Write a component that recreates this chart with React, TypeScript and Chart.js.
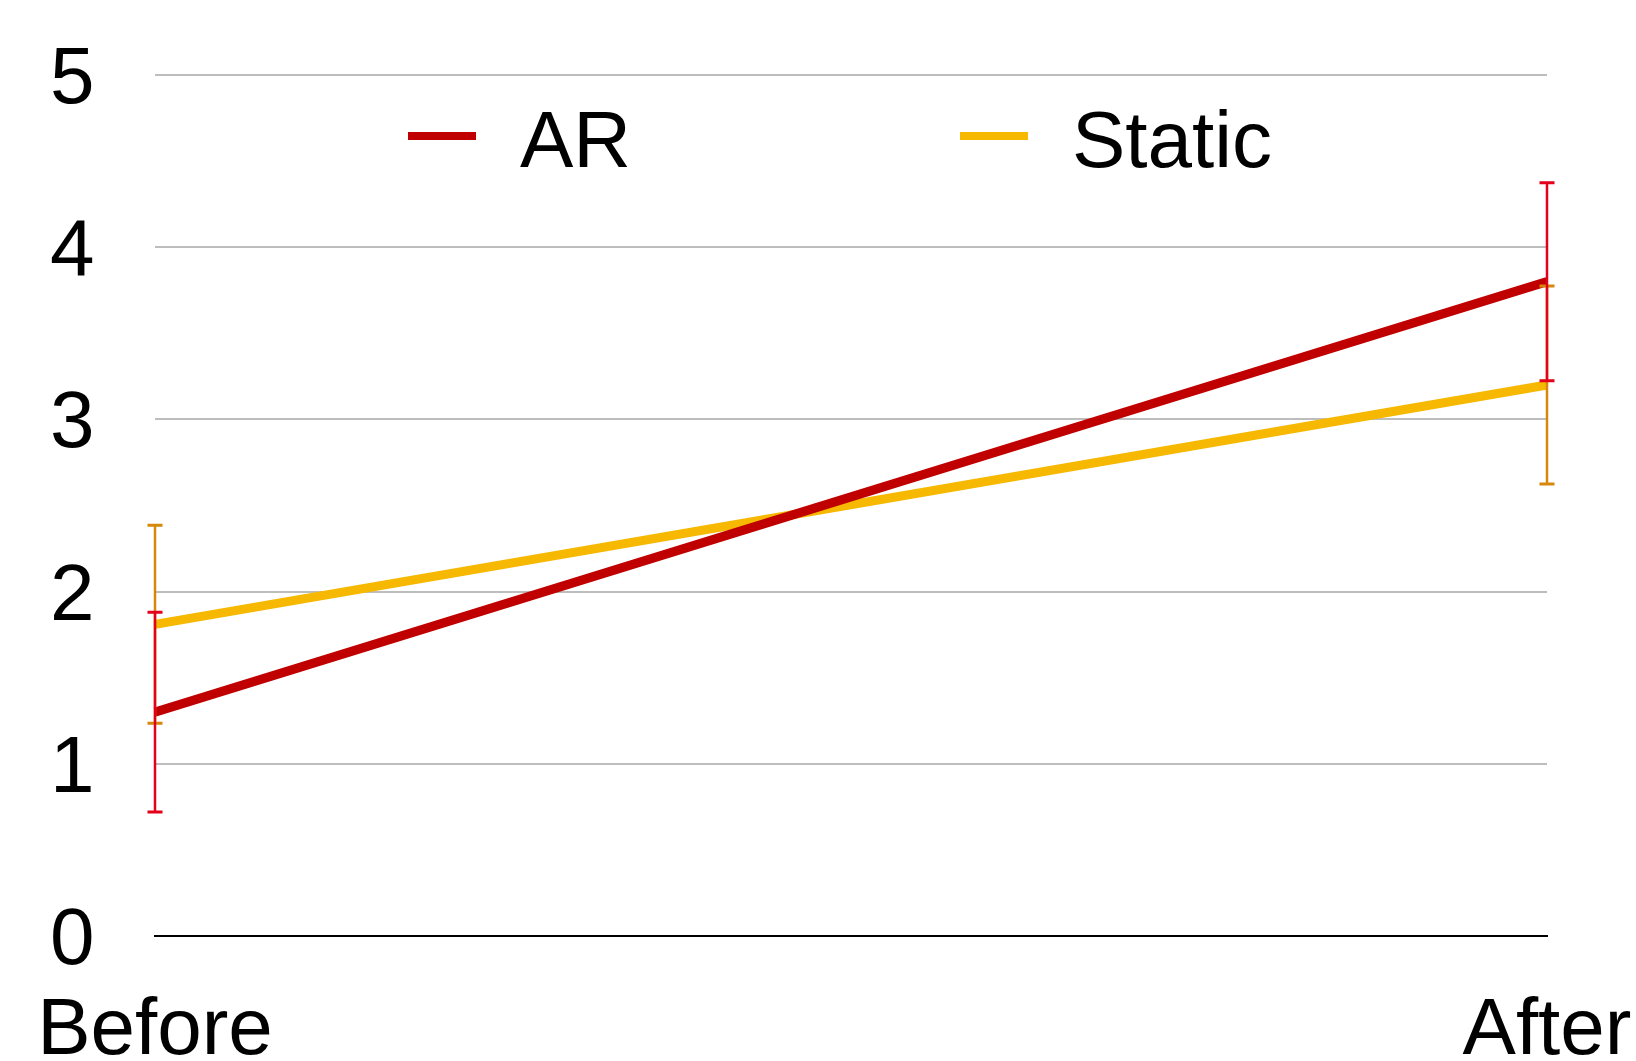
import React, { useEffect, useRef } from "react";
import { Chart, registerables } from "chart.js";

Chart.register(...registerables);

// ---- data ----
const categories = ["Before", "After"];
const seriesNames = ["AR", "Static"];
const arValues = [1.3, 3.8];
const staticValues = [1.81, 3.2];
const arErrors = [0.58, 0.575];
const staticErrors = [0.575, 0.575];
const yMin = 0;
const yMax = 5;
const yStep = 1;

const FONT = '"Liberation Sans", Arial, Helvetica, sans-serif';
const AR_COLOR = "#C00000";
const STATIC_COLOR = "#F6B800";
const AR_ERR_COLOR = "#E2001A";
const STATIC_ERR_COLOR = "#D6870C";

const errorBarPlugin = {
  id: "errorBars",
  afterDatasetsDraw(chart: any) {
    const { ctx } = chart;
    const yScale = chart.scales.y;
    const order = [1, 0];
    for (const di of order) {
      const ds: any = chart.data.datasets[di];
      const meta = chart.getDatasetMeta(di);
      ctx.save();
      ctx.strokeStyle = ds.errorColor;
      ctx.lineCap = "butt";
      meta.data.forEach((pt: any, i: number) => {
        const v = ds.data[i];
        const e = ds.errors[i];
        const x = pt.x;
        const top = yScale.getPixelForValue(v + e);
        const bot = yScale.getPixelForValue(v - e);
        ctx.lineWidth = 2.5;
        ctx.beginPath();
        ctx.moveTo(x, top);
        ctx.lineTo(x, bot);
        ctx.stroke();
        ctx.lineWidth = 3;
        ctx.beginPath();
        ctx.moveTo(x - 7.5, top);
        ctx.lineTo(x + 7.5, top);
        ctx.moveTo(x - 7.5, bot);
        ctx.lineTo(x + 7.5, bot);
        ctx.stroke();
      });
      ctx.restore();
    }
  },
};

const inlineLegendPlugin = {
  id: "inlineLegend",
  afterDraw(chart: any, _args: any, opts: any) {
    const { ctx } = chart;
    chart.data.datasets.forEach((ds: any, i: number) => {
      const x0 = opts.x[i];
      ctx.save();
      ctx.strokeStyle = ds.borderColor;
      ctx.lineWidth = opts.lineWidth;
      ctx.beginPath();
      ctx.moveTo(x0, opts.y);
      ctx.lineTo(x0 + opts.lineLength, opts.y);
      ctx.stroke();
      ctx.fillStyle = "#000";
      ctx.font = `${opts.fontSize}px ${FONT}`;
      ctx.textBaseline = "middle";
      ctx.textAlign = "left";
      ctx.fillText(ds.label, x0 + opts.lineLength + opts.gap, opts.textY);
      ctx.restore();
    });
  },
};

export default function App() {
  const canvasRef = useRef<HTMLCanvasElement | null>(null);

  useEffect(() => {
    if (!canvasRef.current) return;
    const chart = new Chart(canvasRef.current, {
      type: "line",
      data: {
        labels: categories,
        datasets: [
          {
            label: seriesNames[0],
            data: arValues,
            borderColor: AR_COLOR,
            backgroundColor: AR_COLOR,
            borderWidth: 9,
            pointRadius: 0,
            tension: 0,
            errors: arErrors,
            errorColor: AR_ERR_COLOR,
          } as any,
          {
            label: seriesNames[1],
            data: staticValues,
            borderColor: STATIC_COLOR,
            backgroundColor: STATIC_COLOR,
            borderWidth: 9,
            pointRadius: 0,
            tension: 0,
            errors: staticErrors,
            errorColor: STATIC_ERR_COLOR,
          } as any,
        ],
      },
      options: {
        animation: false,
        responsive: true,
        maintainAspectRatio: false,
        devicePixelRatio: 1,
        layout: { padding: { top: 75, right: 89, left: 50, bottom: 0 } },
        plugins: {
          legend: { display: false },
          tooltip: { enabled: false },
          inlineLegend: {
            x: [408, 960],
            y: 136,
            textY: 145,
            lineLength: 68,
            lineWidth: 8,
            gap: 44,
            fontSize: 80,
          },
        } as any,
        scales: {
          x: {
            type: "category",
            offset: false,
            grid: {
              display: true,
              drawOnChartArea: false,
              drawTicks: true,
              tickLength: 48,
              color: "rgba(0,0,0,0)",
            },
            border: { display: true, color: "#000000", width: 2 },
            ticks: {
              color: "#000000",
              padding: 0,
              maxRotation: 0,
              autoSkip: false,
              font: { family: FONT, size: 80 },
            },
            afterFit: (scale: any) => {
              scale.height = 125;
            },
          },
          y: {
            min: yMin,
            max: yMax,
            grid: { color: "#BDBDBD", lineWidth: 2, drawTicks: false },
            border: { display: false },
            ticks: {
              stepSize: yStep,
              color: "#000000",
              padding: 0,
              labelOffset: 6,
              crossAlign: "far",
              font: { family: FONT, size: 80 },
            },
            afterFit: (scale: any) => {
              scale.width = 105;
            },
          },
        },
      },
      plugins: [errorBarPlugin, inlineLegendPlugin],
    });
    return () => chart.destroy();
  }, []);

  return (
    <div
      style={{
        position: "fixed",
        left: 0,
        top: 0,
        width: "1636px",
        height: "1061px",
        background: "#ffffff",
      }}
    >
      <canvas ref={canvasRef} />
    </div>
  );
}
